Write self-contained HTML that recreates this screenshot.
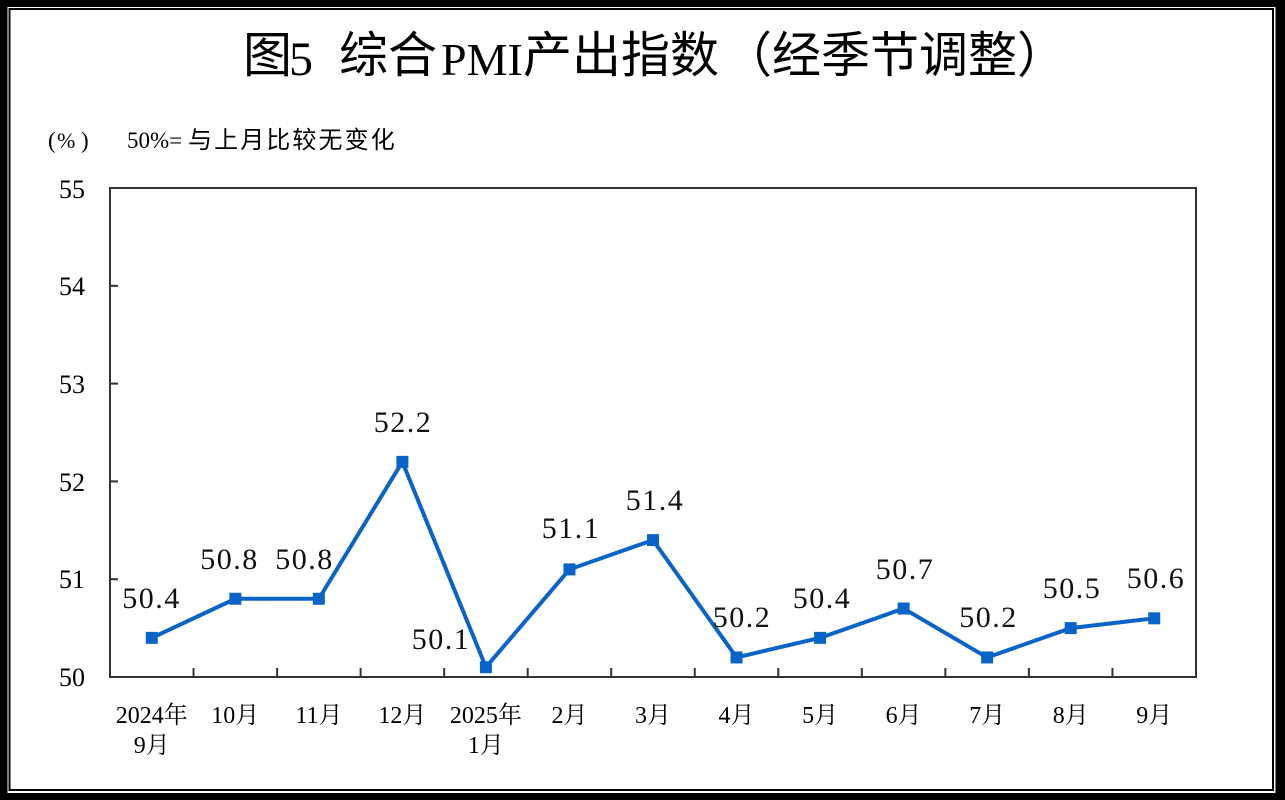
<!DOCTYPE html>
<html>
<head>
<meta charset="utf-8">
<style>
html,body{margin:0;padding:0;background:#000;}
svg{display:block;}
.serif{font-family:"Liberation Serif","Noto Serif CJK SC",serif;}
.cjk{font-family:"Liberation Sans","Noto Sans CJK SC",sans-serif;}
.cjks{font-family:"Liberation Serif","Noto Serif CJK SC",serif;}
</style>
</head>
<body>
<svg width="1285" height="800" viewBox="0 0 1285 800" xmlns="http://www.w3.org/2000/svg">
  <rect x="0" y="0" width="1285" height="800" fill="#000"/>
  <rect x="7.5" y="7" width="1268" height="786" fill="#fff"/>
  <rect x="9.5" y="9" width="1263.5" height="781" fill="none" stroke="#000" stroke-width="2"/>

  <!-- Title -->
  <g fill="#000">
    <text class="cjk" x="243" y="72" font-size="49">图</text>
    <text class="serif" x="289" y="75" font-size="48">5</text>
    <text class="cjk" x="339" y="72" font-size="49">综合</text>
    <text class="serif" x="441" y="75" font-size="46">PMI</text>
    <text class="cjk" x="523" y="72" font-size="49">产出指数</text>
    <text class="cjk" x="723" y="72" font-size="49">（经季节调整）</text>
  </g>

  <!-- Subtitle -->
  <g fill="#000">
    <text class="serif" x="48" y="148" font-size="23">(</text>
    <text class="serif" x="57" y="148" font-size="22">%</text>
    <text class="serif" x="81" y="148" font-size="23">)</text>
    <text class="serif" x="127" y="148" font-size="23">50%=</text>
    <text class="cjk" x="188" y="148" font-size="24" letter-spacing="2.1">与上月比较无变化</text>
  </g>

  <!-- Plot frame -->
  <rect x="110" y="188" width="1086" height="489" fill="none" stroke="#333" stroke-width="2"/>

  <!-- Y ticks -->
  <g stroke="#333" stroke-width="2">
    <line x1="110" y1="579.2" x2="118" y2="579.2"/>
    <line x1="110" y1="481.4" x2="118" y2="481.4"/>
    <line x1="110" y1="383.6" x2="118" y2="383.6"/>
    <line x1="110" y1="285.8" x2="118" y2="285.8"/>
  </g>

  <!-- X ticks -->
  <g stroke="#333" stroke-width="2">
    <line x1="193.54" y1="677" x2="193.54" y2="668"/>
    <line x1="277.08" y1="677" x2="277.08" y2="668"/>
    <line x1="360.62" y1="677" x2="360.62" y2="668"/>
    <line x1="444.15" y1="677" x2="444.15" y2="668"/>
    <line x1="527.69" y1="677" x2="527.69" y2="668"/>
    <line x1="611.23" y1="677" x2="611.23" y2="668"/>
    <line x1="694.77" y1="677" x2="694.77" y2="668"/>
    <line x1="778.31" y1="677" x2="778.31" y2="668"/>
    <line x1="861.85" y1="677" x2="861.85" y2="668"/>
    <line x1="945.38" y1="677" x2="945.38" y2="668"/>
    <line x1="1028.92" y1="677" x2="1028.92" y2="668"/>
    <line x1="1112.46" y1="677" x2="1112.46" y2="668"/>
  </g>

  <!-- Y labels -->
  <g class="serif" font-size="26" fill="#000" text-anchor="end">
    <text x="85" y="198">55</text>
    <text x="85" y="295">54</text>
    <text x="85" y="393">53</text>
    <text x="85" y="491">52</text>
    <text x="85" y="588">51</text>
    <text x="85" y="686">50</text>
  </g>

  <!-- X labels -->
  <g class="cjks" font-size="24" fill="#000" text-anchor="middle">
    <text x="151.8" y="723">2024年</text>
    <text x="151.8" y="753">9月</text>
    <text x="235.3" y="723">10月</text>
    <text x="318.9" y="723">11月</text>
    <text x="402.4" y="723">12月</text>
    <text x="485.9" y="723">2025年</text>
    <text x="485.9" y="753">1月</text>
    <text x="569.5" y="723">2月</text>
    <text x="653.0" y="723">3月</text>
    <text x="736.5" y="723">4月</text>
    <text x="820.1" y="723">5月</text>
    <text x="903.6" y="723">6月</text>
    <text x="987.2" y="723">7月</text>
    <text x="1070.7" y="723">8月</text>
    <text x="1154.2" y="723">9月</text>
  </g>

  <!-- Series line -->
  <polyline fill="none" stroke="#0a64c8" stroke-width="4" stroke-linejoin="miter"
    points="151.77,637.88 235.31,598.76 318.85,598.76 402.38,461.84 485.92,667.22 569.46,569.42 653.0,540.08 736.54,657.44 820.08,637.88 903.62,608.54 987.15,657.44 1070.69,628.1 1154.23,618.32"/>

  <!-- Markers -->
  <g fill="#0a64c8">
    <rect x="145.77" y="631.88" width="12" height="12"/>
    <rect x="229.31" y="592.76" width="12" height="12"/>
    <rect x="312.85" y="592.76" width="12" height="12"/>
    <rect x="396.38" y="455.84" width="12" height="12"/>
    <rect x="479.92" y="661.22" width="12" height="12"/>
    <rect x="563.46" y="563.42" width="12" height="12"/>
    <rect x="647.0" y="534.08" width="12" height="12"/>
    <rect x="730.54" y="651.44" width="12" height="12"/>
    <rect x="814.08" y="631.88" width="12" height="12"/>
    <rect x="897.62" y="602.54" width="12" height="12"/>
    <rect x="981.15" y="651.44" width="12" height="12"/>
    <rect x="1064.69" y="622.1" width="12" height="12"/>
    <rect x="1148.23" y="612.32" width="12" height="12"/>
  </g>

  <!-- Data labels -->
  <g class="serif" font-size="30" fill="#111" text-anchor="middle" letter-spacing="1.5">
    <text x="151.5" y="608">50.4</text>
    <text x="229.5" y="569">50.8</text>
    <text x="304.5" y="569">50.8</text>
    <text x="403" y="432">52.2</text>
    <text x="441" y="649">50.1</text>
    <text x="571" y="538">51.1</text>
    <text x="655" y="510">51.4</text>
    <text x="742" y="627">50.2</text>
    <text x="822" y="608">50.4</text>
    <text x="905" y="579">50.7</text>
    <text x="988.5" y="627">50.2</text>
    <text x="1072" y="598">50.5</text>
    <text x="1156" y="588">50.6</text>
  </g>
</svg>
</body>
</html>
